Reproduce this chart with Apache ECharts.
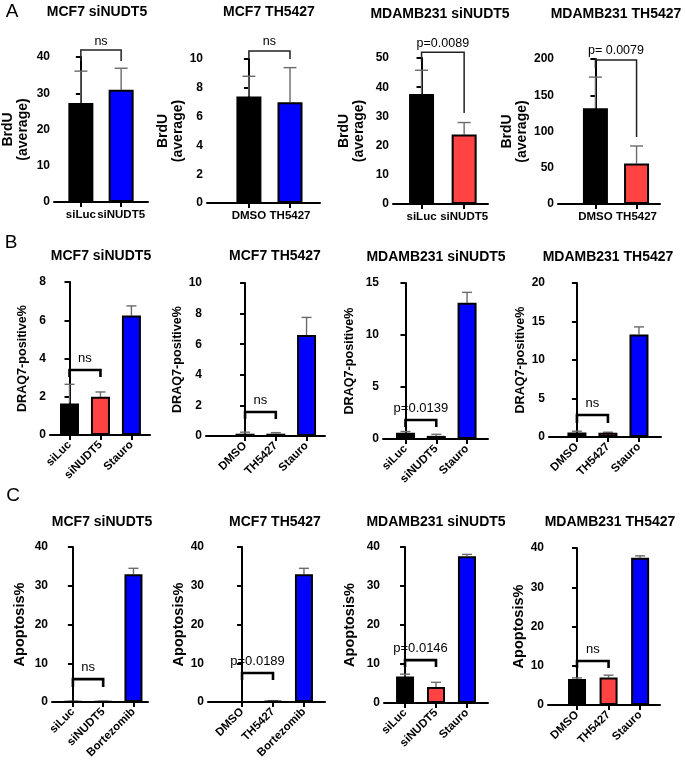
<!DOCTYPE html>
<html><head><meta charset="utf-8">
<script src="https://cdn.jsdelivr.net/npm/echarts@6/dist/echarts.min.js"></script>
<style>html,body{margin:0;padding:0;background:#fff}#c{width:685px;height:765px}</style>
</head><body><div id="c"></div>
<script>
// ---------------- data ----------------
const panelTitles = ['MCF7 siNUDT5','MCF7 TH5427','MDAMB231 siNUDT5','MDAMB231 TH5427',
  'MCF7 siNUDT5','MCF7 TH5427','MDAMB231 siNUDT5','MDAMB231 TH5427',
  'MCF7 siNUDT5','MCF7 TH5427','MDAMB231 siNUDT5','MDAMB231 TH5427'];
const rowLetters = ['A','B','C'];
const yAxisNames = ['BrdU\n(average)','BrdU\n(average)','BrdU\n(average)','BrdU\n(average)',
  'DRAQ7-positive%','DRAQ7-positive%','DRAQ7-positive%','DRAQ7-positive%',
  'Apoptosis%','Apoptosis%','Apoptosis%','Apoptosis%'];
const categories = [
  ['siLuc','siNUDT5'], ['DMSO','TH5427'], ['siLuc','siNUDT5'], ['DMSO','TH5427'],
  ['siLuc','siNUDT5','Stauro'], ['DMSO','TH5427','Stauro'], ['siLuc','siNUDT5','Stauro'], ['DMSO','TH5427','Stauro'],
  ['siLuc','siNUDT5','Bortezomib'], ['DMSO','TH5427','Bortezomib'], ['siLuc','siNUDT5','Stauro'], ['DMSO','TH5427','Stauro']];
const means = [
  [27.3, 31.0], [7.4, 7.0], [37.7, 23.8], [132, 56],
  [1.65, 2.0, 6.25], [0.15, 0.15, 6.6], [0.6, 0.3, 13.1], [0.6, 0.55, 13.3],
  [0.15, 0.15, 33.0], [0.05, 0.25, 33.0], [6.8, 4.1, 37.6], [6.6, 7.0, 37.5]];
const errorTops = [
  [36.1, 36.9], [8.8, 9.4], [45.8, 27.9], [175, 80],
  [2.65, 2.25, 6.75], [0.25, 0.22, 7.75], [0.72, 0.45, 14.1], [0.75, 0.62, 14.3],
  [0.2, 0.2, 34.5], [0.08, 0.3, 34.5], [7.4, 5.3, 38.1], [6.9, 7.6, 38.0]];
const comparisons = ['ns','ns','p=0.0089','p= 0.0079','ns','ns','p=0.0139','ns','ns','p=0.0189','p=0.0146','ns'];
const yMaxes = [40,10,50,200, 8,10,15,20, 40,40,40,40];
const yIntervals = [10,2,10,50, 2,2,5,5, 10,10,10,10];

// ---------------- layout / style ----------------
const BLACK = '#000000', BLUE = '#0000ff', RED = '#ff4242';
const barColors = [[BLACK,BLUE],[BLACK,BLUE],[BLACK,RED],[BLACK,RED],
  [BLACK,RED,BLUE],[BLACK,RED,BLUE],[BLACK,RED,BLUE],[BLACK,RED,BLUE],
  [BLACK,RED,BLUE],[BLACK,RED,BLUE],[BLACK,RED,BLUE],[BLACK,RED,BLUE]];
const grids = [[50,57,98,145],[207,59,113,144],[393,58,95,146],[558,59,102,145],
  [50,282,100,153],[206,283,119,153],[383,283,105,156],[549,283,112,154],
  [52,547,96,155],[208,547,117,155],[384,547,104,156],[548,548,112,157]];
const xRanges = [[-0.667,1.667],[-1.02,1.73],[-0.67,1.56],[-0.91,1.57],
  [-0.63,2.6],[-1.27,2.6],[-0.73,2.68],[-0.9,2.71],
  [-0.69,2.48],[-1.1,2.68],[-0.68,2.68],[-0.92,2.63]];
const nameGaps = [23,10,26,23, 20,8,26,20, 25,11,27,18];
const bracketLevels = [[41.9,38.9,38.9],[10.56,10.0,10.0],[52.0,48.6,31.2],[198.6,187.6,92.4],
  [3.4,3.03,3.03],[1.57,1.11,1.11],[1.83,1.15,1.15],[2.86,1.82,1.82],
  [5.9,3.9,3.9],[7.5,5.7,5.7],[11.0,9.2,9.2],[11.2,9.4,9.4]];
const titlePos = [[97,13],[269,13],[440,15],[616,15],
  [101,257],[275,257],[436,258],[608,258],
  [102,523],[275,523],[436,523],[610,523]];
const letterPos = [[12,12],[11,243],[13,496]];
const FONT = 'Liberation Sans, Arial, sans-serif';

const option = {
  animation: false,
  backgroundColor: '#fff',
  title: [], grid: [], xAxis: [], yAxis: [], series: []
};

rowLetters.forEach((L, r) => {
  option.title.push({text: L, left: letterPos[r][0], top: letterPos[r][1] - 10, textAlign: 'center', padding: 0,
    textStyle: {fontFamily: FONT, fontSize: 19, fontWeight: 'normal', color: '#000'}});
});

panelTitles.forEach((t, i) => {
  const row = Math.floor(i / 4);
  option.title.push({text: t, left: titlePos[i][0], top: titlePos[i][1] - 8, textAlign: 'center', padding: 0,
    textStyle: {fontFamily: FONT, fontSize: 14, fontWeight: 'bold', color: '#000'}});
  const g = grids[i];
  option.grid.push({left: g[0], top: g[1], width: g[2], height: g[3], containLabel: false});
  const idx = categories[i].map((c, k) => k);
  option.xAxis.push({
    type: 'value', gridIndex: i, min: xRanges[i][0], max: xRanges[i][1],
    splitLine: {show: false},
    axisLine: {show: true, onZero: false, lineStyle: {color: '#000', width: 2}},
    axisTick: {show: true, customValues: idx, length: 5, lineStyle: {color: '#000', width: 2}},
    axisLabel: {show: true, customValues: idx, formatter: v => categories[i][Math.round(v)],
      showMinLabel: true, showMaxLabel: true, hideOverlap: false,
      rotate: row === 0 ? 0 : 45, margin: row === 0 ? 7 : 8,
      fontFamily: FONT, fontSize: 11.5, fontWeight: 'bold', color: '#000'}
  });
  option.yAxis.push({
    type: 'value', gridIndex: i, min: 0, max: yMaxes[i], interval: yIntervals[i],
    name: yAxisNames[i], nameLocation: 'middle', nameGap: nameGaps[i],
    nameTextStyle: {fontFamily: FONT, fontSize: row === 0 ? 14 : (row === 1 ? 12.6 : 14.5), fontWeight: 'bold', color: '#000', lineHeight: 15},
    splitLine: {show: false},
    axisLine: {show: true, lineStyle: {color: '#000', width: 2}},
    axisTick: {show: true, length: 5, lineStyle: {color: '#000', width: 2}},
    axisLabel: {fontFamily: FONT, fontSize: 12, fontWeight: 'bold', color: '#000', margin: 4,
      showMinLabel: true, showMaxLabel: true}
  });
  const capHalf = row === 0 ? 6.5 : 5;
  const errColor = '#6a6a6a';
  // error bars (upper whisker)
  option.series.push({
    type: 'custom', xAxisIndex: i, yAxisIndex: i, z: 1, silent: true,
    data: means[i].map((m, k) => [k, m, errorTops[i][k]]),
    renderItem: (params, api) => {
      const p0 = api.coord([api.value(0), api.value(1)]);
      const p1 = api.coord([api.value(0), api.value(2)]);
      return {type: 'group', children: [
        {type: 'line', shape: {x1: p0[0], y1: p0[1], x2: p1[0], y2: p1[1]}, style: {stroke: errColor, lineWidth: 1.4}},
        {type: 'line', shape: {x1: p1[0] - capHalf, y1: p1[1], x2: p1[0] + capHalf, y2: p1[1]}, style: {stroke: errColor, lineWidth: 1.4}}
      ]};
    }
  });
  // bars
  option.series.push({
    type: 'bar', xAxisIndex: i, yAxisIndex: i, z: 2,
    barWidth: row === 0 ? 25 : (row === 1 ? 19 : 18),
    data: means[i].map((m, k) => ({value: [k, m], itemStyle: {color: barColors[i][k]}})),
    itemStyle: {borderColor: '#000', borderWidth: 2}
  });
  // significance bracket
  const bl = bracketLevels[i];
  const bw = row === 0 ? 1.5 : 2.6;
  const bc = row === 0 ? '#222' : '#000';
  const tOff = row === 0 ? 9 : 12;
  const fs = row === 0 ? 12.5 : 13;
  option.series.push({
    type: 'custom', xAxisIndex: i, yAxisIndex: i, z: 3, silent: true, clip: false,
    data: [[0, 1, bl[0], bl[1], bl[2]]],
    renderItem: (params, api) => {
      const a = api.coord([api.value(0), api.value(3)]);
      const b = api.coord([api.value(0), api.value(2)]);
      const c = api.coord([api.value(1), api.value(2)]);
      const d = api.coord([api.value(1), api.value(4)]);
      return {type: 'group', children: [
        {type: 'polyline', shape: {points: [a, b, c, d]}, style: {stroke: bc, lineWidth: bw, fill: null}},
        {type: 'text', x: (b[0] + c[0]) / 2, y: b[1] - tOff,
          style: {text: comparisons[i], fill: '#000', font: 'normal ' + fs + 'px ' + FONT,
            align: 'center', verticalAlign: 'middle', textAlign: 'center', textVerticalAlign: 'middle'}}
      ]};
    }
  });
});

const chart = echarts.init(document.getElementById('c'), null, {renderer: 'canvas'});
chart.setOption(option);
</script></body></html>
